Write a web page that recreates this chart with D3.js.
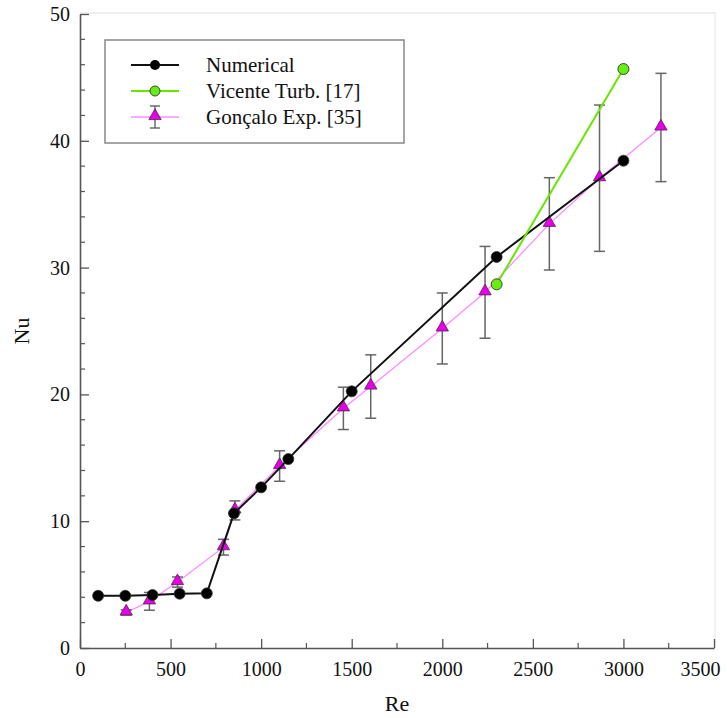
<!DOCTYPE html>
<html>
<head>
<meta charset="utf-8">
<script src="https://cdn.jsdelivr.net/npm/d3@7"></script>
<style>
  html, body { margin: 0; padding: 0; background: #fff; }
  svg { display: block; }
  svg text { font-family: "Liberation Serif", "Times New Roman", serif; fill: #111; }
</style>
</head>
<body>
<svg id="chart" width="727" height="718"></svg>
<script>
// Nusselt number vs Reynolds number
const numRe = [100, 250, 400, 550, 700, 850, 1000, 1150, 1500, 2300, 3000];
const numNu = [4.12, 4.12, 4.18, 4.28, 4.31, 10.62, 12.67, 14.9, 20.24, 30.84, 38.43];

const vicRe = [2300, 3000];
const vicNu = [28.68, 45.66];

const expRe  = [255, 383, 538, 792, 855, 1102, 1454, 1605, 2000, 2236, 2591, 2868, 3207];
const expNu  = [2.8, 3.68, 5.2, 7.95, 10.85, 14.35, 18.9, 20.62, 25.2, 28.05, 33.45, 37.05, 41.05];
const expErr = [0.2, 0.7, 0.4, 0.62, 0.75, 1.2, 1.67, 2.5, 2.8, 3.62, 3.64, 5.77, 4.27];

const xTicks = [0, 500, 1000, 1500, 2000, 2500, 3000, 3500];
const yTicks = [0, 10, 20, 30, 40, 50];

const seriesNames = ["Numerical", "Vicente Turb. [17]", "Gonçalo Exp. [35]"];

(function () {
  const svg = d3.select("#chart");
  const pL = 80, pR = 714, pT = 14, pB = 648;
  const serif = "'Liberation Serif', 'Times New Roman', serif";

  const x = d3.scaleLinear().domain([0, 3500]).range([pL, pR]);
  const y = d3.scaleLinear().domain([0, 50]).range([pB, pT]);

  // light frame on top and right
  svg.append("line").attr("x1", pL).attr("x2", pR + 1).attr("y1", pT - 1).attr("y2", pT - 1)
    .attr("stroke", "#ddd").attr("stroke-width", 1);
  svg.append("line").attr("x1", pR + 1).attr("x2", pR + 1).attr("y1", pT - 1).attr("y2", pB)
    .attr("stroke", "#e4e4e4").attr("stroke-width", 1);

  // axes with inward ticks
  const axisColor = "#555";
  const xMinor = d3.range(250, 3500, 500);
  const yMinor = d3.range(0, 50, 2).filter(v => v % 10 !== 0);

  const gx = svg.append("g").attr("transform", `translate(0,${pB})`);
  gx.call(d3.axisBottom(x).tickValues(xTicks).tickFormat(d3.format("d"))
    .tickSize(-9).tickPadding(14).tickSizeOuter(0));
  gx.attr("font-family", null);
  gx.selectAll(".tick text").style("font-family", serif).attr("font-size", 20).attr("fill", "#111");
  // keep the last label inside the page
  gx.selectAll(".tick text").filter(d => d === 3500).attr("text-anchor", "end").attr("x", 6);
  gx.selectAll("line").attr("stroke", axisColor).attr("stroke-width", 1.3);
  gx.select(".domain").attr("stroke", axisColor).attr("stroke-width", 1.6);
  gx.selectAll(".minor").data(xMinor).enter().append("line").attr("class", "minor")
    .attr("x1", d => x(d)).attr("x2", d => x(d)).attr("y1", 0).attr("y2", -5)
    .attr("stroke", axisColor).attr("stroke-width", 1.2);

  const gy = svg.append("g").attr("transform", `translate(${pL},0)`);
  gy.call(d3.axisLeft(y).tickValues(yTicks).tickFormat(d3.format("d"))
    .tickSize(-9).tickPadding(10).tickSizeOuter(0));
  gy.attr("font-family", null);
  gy.selectAll(".tick text").style("font-family", serif).attr("font-size", 20).attr("fill", "#111");
  gy.selectAll("line").attr("stroke", axisColor).attr("stroke-width", 1.3);
  gy.select(".domain").attr("stroke", axisColor).attr("stroke-width", 1.6);
  gy.selectAll(".minor").data(yMinor).enter().append("line").attr("class", "minor")
    .attr("x1", 0).attr("x2", 5).attr("y1", d => y(d)).attr("y2", d => y(d))
    .attr("stroke", axisColor).attr("stroke-width", 1.2);

  // axis titles
  svg.append("text").attr("x", (pL + pR) / 2).attr("y", 711).attr("text-anchor", "middle")
    .attr("font-size", 22).text("Re");
  svg.append("text").attr("transform", `translate(29,${(pT + pB) / 2}) rotate(-90)`)
    .attr("text-anchor", "middle").attr("font-size", 22).text("Nu");

  const pinkLine = "#ff8cff", magenta = "#e600e6", green = "#66e600", greenFill = "#66ee11";
  const tri = d3.symbol().type(d3.symbolTriangle).size(66);

  // experimental data: line, error bars, triangles
  const expData = expRe.map((r, i) => ({ re: r, nu: expNu[i], err: expErr[i] }));
  svg.append("path").datum(expData)
    .attr("d", d3.line().x(d => x(d.re)).y(d => y(d.nu)))
    .attr("fill", "none").attr("stroke", pinkLine).attr("stroke-width", 1.3);

  const eb = svg.append("g").attr("stroke", "#666").attr("stroke-width", 1.5);
  expData.forEach(d => {
    const cx = x(d.re), y1 = y(d.nu + d.err), y2 = y(d.nu - d.err);
    eb.append("line").attr("x1", cx).attr("x2", cx).attr("y1", y1).attr("y2", y2);
    eb.append("line").attr("x1", cx - 5.5).attr("x2", cx + 5.5).attr("y1", y1).attr("y2", y1);
    eb.append("line").attr("x1", cx - 5.5).attr("x2", cx + 5.5).attr("y1", y2).attr("y2", y2);
  });
  svg.append("g").selectAll("path").data(expData).enter().append("path")
    .attr("d", tri).attr("transform", d => `translate(${x(d.re)},${y(d.nu) - 1})`)
    .attr("fill", magenta).attr("stroke", "#552255").attr("stroke-width", 0.8);

  // numerical results
  const numData = numRe.map((r, i) => ({ re: r, nu: numNu[i] }));
  svg.append("path").datum(numData)
    .attr("d", d3.line().x(d => x(d.re)).y(d => y(d.nu)))
    .attr("fill", "none").attr("stroke", "#111").attr("stroke-width", 2);
  svg.append("g").selectAll("circle").data(numData).enter().append("circle")
    .attr("cx", d => x(d.re)).attr("cy", d => y(d.nu)).attr("r", 5.5)
    .attr("fill", "#000").attr("stroke", "#333").attr("stroke-width", 0.8);

  // turbulent correlation
  const vicData = vicRe.map((r, i) => ({ re: r, nu: vicNu[i] }));
  svg.append("path").datum(vicData)
    .attr("d", d3.line().x(d => x(d.re)).y(d => y(d.nu)))
    .attr("fill", "none").attr("stroke", green).attr("stroke-width", 2);
  svg.append("g").selectAll("circle").data(vicData).enter().append("circle")
    .attr("cx", d => x(d.re)).attr("cy", d => y(d.nu)).attr("r", 5.5)
    .attr("fill", greenFill).attr("stroke", "#333").attr("stroke-width", 0.9);

  // legend
  const lg = svg.append("g");
  lg.append("rect").attr("x", 105).attr("y", 40).attr("width", 299).attr("height", 103)
    .attr("fill", "#fff").attr("stroke", "#888").attr("stroke-width", 1.5);
  const rows = [65, 91, 117];
  const lx1 = 131, lx2 = 179, lxm = 155;
  lg.append("line").attr("x1", lx1).attr("x2", lx2).attr("y1", rows[0]).attr("y2", rows[0]).attr("stroke", "#111").attr("stroke-width", 2);
  lg.append("circle").attr("cx", lxm).attr("cy", rows[0]).attr("r", 5).attr("fill", "#000");
  lg.append("line").attr("x1", lx1).attr("x2", lx2).attr("y1", rows[1]).attr("y2", rows[1]).attr("stroke", green).attr("stroke-width", 2);
  lg.append("circle").attr("cx", lxm).attr("cy", rows[1]).attr("r", 5).attr("fill", greenFill).attr("stroke", "#333").attr("stroke-width", 0.9);
  lg.append("line").attr("x1", lx1).attr("x2", lx2).attr("y1", rows[2]).attr("y2", rows[2]).attr("stroke", pinkLine).attr("stroke-width", 1.5);
  lg.append("line").attr("x1", lxm).attr("x2", lxm).attr("y1", rows[2] - 11).attr("y2", rows[2] + 11).attr("stroke", "#555").attr("stroke-width", 1.3);
  lg.append("line").attr("x1", lxm - 5).attr("x2", lxm + 5).attr("y1", rows[2] - 11).attr("y2", rows[2] - 11).attr("stroke", "#555").attr("stroke-width", 1.3);
  lg.append("line").attr("x1", lxm - 5).attr("x2", lxm + 5).attr("y1", rows[2] + 11).attr("y2", rows[2] + 11).attr("stroke", "#555").attr("stroke-width", 1.3);
  lg.append("path").attr("d", tri).attr("transform", `translate(${lxm},${rows[2] - 1})`)
    .attr("fill", magenta).attr("stroke", "#552255").attr("stroke-width", 0.8);
  lg.selectAll("text.lbl").data(seriesNames).enter().append("text").attr("class", "lbl")
    .attr("x", 206).attr("y", (d, i) => rows[i] + 7).attr("font-size", 21).text(d => d);
})();
</script>
</body>
</html>
